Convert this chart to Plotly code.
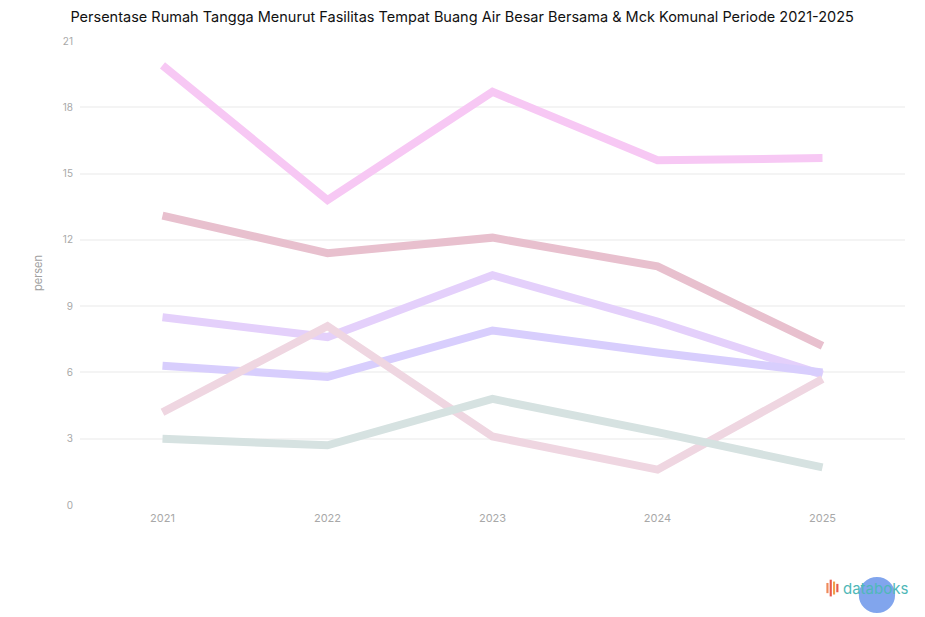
import plotly.graph_objects as go

years = ['2021', '2022', '2023', '2024', '2025']

series_names = ['Seri 1', 'Seri 2', 'Seri 3', 'Seri 4', 'Seri 5', 'Seri 6']
pink = [19.9, 13.8, 18.7, 15.6, 15.7]
mauve = [13.1, 11.4, 12.1, 10.8, 7.2]
lilac = [8.5, 7.6, 10.4, 8.3, 5.9]
violet = [6.3, 5.8, 7.9, 6.9, 6.0]
rose = [4.2, 8.1, 3.1, 1.6, 5.7]
teal = [3.0, 2.7, 4.8, 3.3, 1.7]

y_ticks = [0, 3, 6, 9, 12, 15, 18, 21]

colors = ['#f7c8f4', '#e8c0ce', '#e4d0fb', '#d8cefd', '#efd6e1', '#d6e2e1']

fig = go.Figure()
for name, vals, col in zip(series_names, [pink, mauve, lilac, violet, rose, teal], colors):
    fig.add_trace(go.Scatter(x=years, y=vals, mode='lines', name=name,
                             line=dict(color=col, width=8), hoverinfo='x+y'))

fig.update_layout(
    width=925, height=617,
    paper_bgcolor='white', plot_bgcolor='white',
    margin=dict(l=72, r=28, t=33, b=120, autoexpand=False),
    showlegend=False,
    font=dict(family='Inter, Roboto, sans-serif', color='#9a9a9a'),
    title=dict(text='Persentase Rumah Tangga Menurut Fasilitas Tempat Buang Air Besar Bersama & Mck Komunal Periode 2021-2025',
               x=0.491, xanchor='center', y=0.9854, yanchor='middle', pad=dict(t=0, b=0),
               font=dict(size=14.5, color='#111111', family='Inter, Roboto, sans-serif')),
    xaxis=dict(type='category', range=[-0.5, 4.5], showgrid=False, showline=False,
               zeroline=False, ticks='', automargin=False, ticklabelstandoff=5,
               tickfont=dict(size=11, color='#a8a8a8')),
    yaxis=dict(range=[0, 21], tickvals=y_ticks, showgrid=True, gridcolor='#f4f4f4',
               gridwidth=2, zeroline=False, showline=False, ticks='', automargin=False,
               tickfont=dict(size=10, color='#a8a8a8'), ticklabelstandoff=6,
               title=dict(text='persen', font=dict(size=11, color='#a0a0a0'), standoff=17)),
)

# databoks logo (below the plot area, bottom right)
fig.add_shape(type='circle', xref='paper', yref='paper',
              x0=0.944, x1=0.988, y0=-0.233, y1=-0.155,
              fillcolor='#6b95ea', line=dict(width=0), opacity=0.85, layer='below')
fig.add_annotation(text='databoks', xref='paper', yref='paper', x=0.923, y=-0.179,
                   xanchor='left', yanchor='middle', showarrow=False,
                   font=dict(size=15, color='#4fb8b8', family='Inter, Roboto, sans-serif'))
bar_x = [0.906, 0.910, 0.914, 0.918]
bar_h = [0.022, 0.036, 0.028, 0.018]
bar_c = ['#ef8a5a', '#e8594d', '#f0a04b', '#e8594d']
for bx, bh, bc in zip(bar_x, bar_h, bar_c):
    fig.add_shape(type='rect', xref='paper', yref='paper',
                  x0=bx - 0.0013, x1=bx + 0.0013,
                  y0=-0.179 - bh / 2, y1=-0.179 + bh / 2,
                  fillcolor=bc, line=dict(width=0))

fig.write_html('out.html')
